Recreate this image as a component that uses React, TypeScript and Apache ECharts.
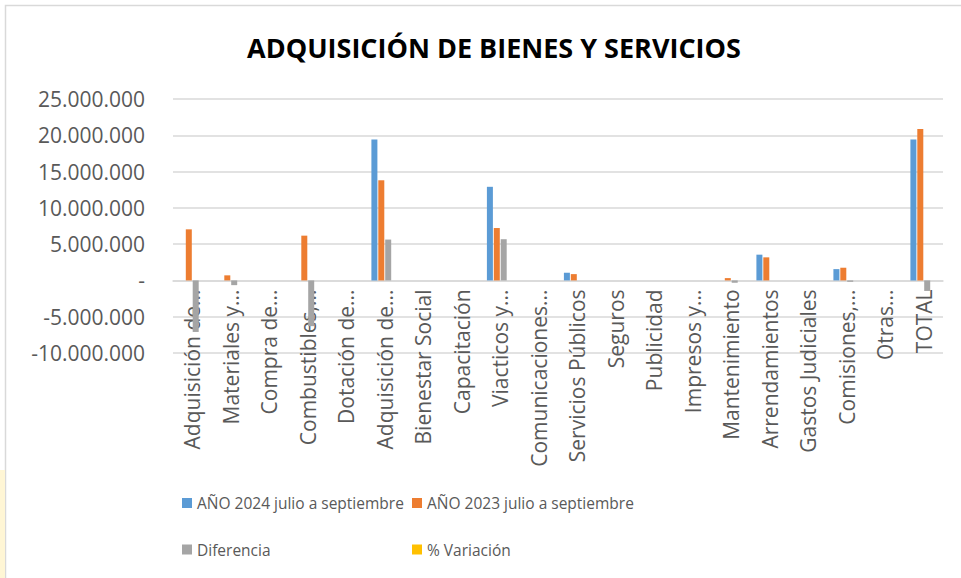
import React, { useEffect, useRef } from "react";
import * as echarts from "echarts";

const categories = [
  "Adquisición de...",
  "Materiales y...",
  "Compra de...",
  "Combustibles,...",
  "Dotación de...",
  "Adquisición de...",
  "Bienestar Social",
  "Capacitación",
  "Viacticos y...",
  "Comunicaciones...",
  "Servicios Públicos",
  "Seguros",
  "Publicidad",
  "Impresos y...",
  "Mantenimiento",
  "Arrendamientos",
  "Gastos Judiciales",
  "Comisiones,...",
  "Otras...",
  "TOTAL",
];

const seriesNames = [
  "AÑO 2024 julio a septiembre",
  "AÑO 2023 julio a septiembre",
  "Diferencia",
  "% Variación",
];

const year2024 = [0, 0, 0, 0, 0, 19430000, 0, 0, 12900000, 0, 1060000, 0, 0, 0, 0, 3550000, 0, 1560000, 0, 19430000];
const year2023 = [7040000, 700000, 0, 6170000, 0, 13800000, 0, 0, 7220000, 0, 870000, 0, 0, 0, 320000, 3180000, 0, 1750000, 0, 20860000];
const diferencia = [-7100000, -650000, 0, -6300000, 0, 5630000, 0, 0, 5680000, 0, 0, 0, 0, 0, -320000, 0, 0, -190000, 0, -1450000];
const variacion = [-1, -1, 0, -1, 0, 0.41, 0, 0, 0.79, 0, 0.22, 0, 0, 0, -1, 0.12, 0, -0.11, 0, -0.07];

const yTicks = { min: -10000000, max: 25000000, interval: 5000000 };

const colors = ["#5B9BD5", "#ED7D31", "#A5A5A5", "#FFC000"];

const FONT = '"Open Sans", "Noto Sans", sans-serif';
const TEXT_GREY = "#595959";
const GRID_GREY = "#D9D9D9";

function fmt(v: number): string {
  if (v === 0) return "-";
  const s = String(Math.abs(v)).replace(/\B(?=(\d{3})+(?!\d))/g, ".");
  return (v < 0 ? "-" : "") + s;
}

const GRID_TOP = 99;
const GRID_BOTTOM = 225;
const CHART_H = 578;

export default function App() {
  const ref = useRef<HTMLDivElement>(null);

  useEffect(() => {
    if (!ref.current) return;
    const chart = echarts.init(ref.current, undefined, { renderer: "svg" });
    const dataSets = [year2024, year2023, diferencia, variacion];
    const plotH = CHART_H - GRID_TOP - GRID_BOTTOM;
    const zeroOffset = (plotH * yTicks.max) / (yTicks.max - yTicks.min);
    const legendText = { fontFamily: FONT, fontSize: 15.5, color: TEXT_GREY, lineHeight: 20 };
    chart.setOption({
      animation: false,
      backgroundColor: "#ffffff",
      color: colors,
      graphic: [
        {
          type: "rect",
          z: -10,
          shape: { x: 5.5, y: 5.5, width: 1000, height: 700 },
          style: { fill: "#ffffff", stroke: GRID_GREY, lineWidth: 1.5 },
          silent: true,
        },
        {
          type: "rect",
          z: -10,
          shape: { x: 0, y: 470, width: 5, height: 108 },
          style: { fill: "#FFF6D5" },
          silent: true,
        },
      ],
      title: {
        text: "ADQUISICIÓN DE BIENES Y SERVICIOS",
        left: 489,
        textAlign: "center",
        top: 29,
        textStyle: {
          fontFamily: FONT,
          fontWeight: "bold",
          fontSize: 27,
          color: "#000000",
        },
      },
      legend: [
        {
          data: [seriesNames[0], seriesNames[2]],
          orient: "vertical",
          left: 182,
          top: 493,
          padding: 0,
          itemWidth: 10,
          itemHeight: 10,
          itemGap: 26.5,
          icon: "rect",
          textStyle: legendText,
        },
        {
          data: [seriesNames[1], seriesNames[3]],
          orient: "vertical",
          left: 412,
          top: 493,
          padding: 0,
          itemWidth: 10,
          itemHeight: 10,
          itemGap: 26.5,
          icon: "rect",
          textStyle: legendText,
        },
      ],
      grid: [
        { left: 173, right: 18, top: GRID_TOP, bottom: GRID_BOTTOM, containLabel: false },
        { left: 173, right: 18, top: GRID_TOP, height: zeroOffset, containLabel: false },
      ],
      xAxis: [
        {
          type: "category",
          gridIndex: 0,
          data: categories,
          axisLine: { onZero: true, lineStyle: { color: GRID_GREY, width: 1.5 } },
          axisTick: { show: false },
          axisLabel: { show: false },
          splitLine: { show: false },
        },
        {
          type: "category",
          gridIndex: 1,
          data: categories,
          position: "bottom",
          axisLine: { show: false, onZero: false },
          axisTick: { show: false },
          axisLabel: {
            interval: 0,
            rotate: 90,
            margin: 9,
            fontFamily: FONT,
            fontSize: 21,
            color: TEXT_GREY,
          },
          splitLine: { show: false },
        },
      ],
      yAxis: [
        {
          type: "value",
          gridIndex: 0,
          min: yTicks.min,
          max: yTicks.max,
          interval: yTicks.interval,
          axisLine: { show: false },
          axisTick: { show: false },
          axisLabel: {
            margin: 28,
            fontFamily: FONT,
            fontSize: 21,
            color: TEXT_GREY,
            formatter: (v: number) => fmt(v),
          },
          splitLine: { lineStyle: { color: GRID_GREY, width: 1.5 } },
        },
        {
          type: "value",
          gridIndex: 1,
          min: 0,
          max: 1,
          show: false,
        },
      ],
      series: seriesNames.map((name, i) => ({
        name,
        type: "bar",
        xAxisIndex: 0,
        yAxisIndex: 0,
        data: dataSets[i],
        barWidth: 6,
        barGap: "15%",
        itemStyle: { color: colors[i] },
      })),
    });
    return () => chart.dispose();
  }, []);

  return (
    <div
      ref={ref}
      style={{ position: "fixed", left: 0, top: 0, width: 961, height: 578 }}
    />
  );
}
